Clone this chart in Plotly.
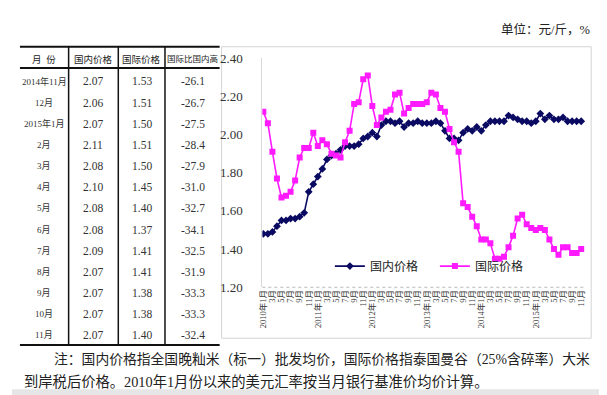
import plotly.graph_objects as go

# ---------------- data ----------------
years = [2010, 2011, 2012, 2013, 2014, 2015]
month_keys = [f"{y}-{m:02d}" for y in years for m in range(1, 13)][:71]

domestic = [
    1.48, 1.48, 1.49, 1.52, 1.55, 1.55, 1.56, 1.56, 1.57, 1.59,
    1.70, 1.74, 1.78, 1.82, 1.87, 1.89, 1.90, 1.92, 1.94, 1.94,
    1.94, 1.95, 1.98, 1.99, 2.01, 1.99, 2.05, 2.07, 2.07, 2.06,
    2.07, 2.04, 2.06, 2.06, 2.07, 2.06, 2.06, 2.06, 2.07, 2.06,
    2.02, 1.98, 1.98, 1.97, 2.01, 2.03, 2.02, 2.04, 2.02, 2.05,
    2.07, 2.07, 2.07, 2.07, 2.10, 2.09, 2.08, 2.07,
    2.07, 2.06, 2.07, 2.11, 2.08, 2.10, 2.08, 2.08, 2.09, 2.07, 2.07, 2.07, 2.07,
]
international = [
    2.12, 2.06, 1.91, 1.77, 1.67, 1.68, 1.70, 1.76, 1.88, 1.93,
    1.93, 2.01, 1.94, 1.97, 1.95, 1.90, 1.89, 1.88, 1.96, 2.02,
    2.16, 2.17, 2.29, 2.31, 2.15, 2.05, 2.09, 2.12, 2.13, 2.21,
    2.22, 2.11, 2.14, 2.16, 2.16, 2.16, 2.17, 2.22, 2.21, 2.14,
    2.12, 2.03, 1.96, 1.91, 1.64, 1.62, 1.57, 1.52, 1.45, 1.45,
    1.43, 1.35, 1.35, 1.36, 1.41, 1.47, 1.56, 1.58,
    1.53, 1.51, 1.50, 1.51, 1.50, 1.45, 1.40, 1.37, 1.41, 1.41, 1.38, 1.38, 1.40,
]

tick_vals = month_keys[::2]
tick_text = [(f"{k[:4]}年1月" if k.endswith("-01") else f"{int(k[5:])}月") for k in tick_vals]

y_ticks = [1.20, 1.40, 1.60, 1.80, 2.00, 2.20, 2.40]

table_header = ["月  份", "国内价格", "国际价格", "国际比国内高"]
table_months = ["2014年11月", "12月", "2015年1月", "2月", "3月", "4月", "5月",
                "6月", "7月", "8月", "9月", "10月", "11月"]
table_domestic = [2.07, 2.06, 2.07, 2.11, 2.08, 2.10, 2.08, 2.08, 2.09, 2.07, 2.07, 2.07, 2.07]
table_international = [1.53, 1.51, 1.50, 1.51, 1.50, 1.45, 1.40, 1.37, 1.41, 1.41, 1.38, 1.38, 1.40]
table_diff = [-26.1, -26.7, -27.5, -28.4, -27.9, -31.0, -32.7, -34.1, -32.5, -31.9, -33.3, -33.3, -32.4]

unit_text = "单位：元/斤，%"
note_line1 = "注：国内价格指全国晚籼米（标一）批发均价，国际价格指泰国曼谷（25%含碎率）大米"
note_line2 = "到岸税后价格。2010年1月份以来的美元汇率按当月银行基准价均价计算。"

# ---------------- layout helpers ----------------
W, H = 607, 395
FONT = "Liberation Serif, Noto Sans CJK SC, serif"


def px(x):
    return x / W


def py(y):
    return 1 - y / H


NAVY = "#0a0a63"
MAGENTA = "#ff1aff"

fig = go.Figure()
fig.add_trace(go.Scatter(
    x=month_keys, y=domestic, name="国内价格", mode="lines+markers",
    line=dict(color=NAVY, width=1.6),
    marker=dict(symbol="diamond", size=6, color=NAVY),
))
fig.add_trace(go.Scatter(
    x=month_keys, y=international, name="国际价格", mode="lines+markers",
    line=dict(color=MAGENTA, width=1.6),
    marker=dict(symbol="square", size=6, color=MAGENTA),
))

# plot area pixels
X0, X1 = 252, 580
Y_TOP, Y_BOT = 45, 283
step = 4.571
x_lo = (X0 - 253) / step
x_hi = (X1 - 253) / step

shapes = []
annotations = []

# chart frame
shapes.append(dict(type="rect", xref="paper", yref="paper",
                   x0=px(211), x1=px(583), y0=py(336), y1=py(33),
                   line=dict(color="#d4d4d4", width=1), fillcolor="rgba(0,0,0,0)", layer="below"))
# dotted x-axis line
shapes.append(dict(type="line", xref="paper", yref="paper",
                   x0=px(252), x1=px(578), y0=py(283), y1=py(283),
                   line=dict(color="#b8b8b8", width=1, dash="dot")))
# bottom gray band
shapes.append(dict(type="rect", xref="paper", yref="paper",
                   x0=0, x1=1, y0=0, y1=py(389),
                   line=dict(width=0), fillcolor="#e6e6e6", layer="below"))

# table lines
T_L, T_R = 8, 209
T_TOP, T_HEAD, T_BOT = 33, 55, 343
for yy in (T_TOP, T_HEAD, T_BOT):
    shapes.append(dict(type="line", xref="paper", yref="paper",
                       x0=px(T_L), x1=px(T_R), y0=py(yy), y1=py(yy),
                       line=dict(color="#111111", width=2)))
col_lines = [57, 107, 154]
for xx in col_lines:
    shapes.append(dict(type="line", xref="paper", yref="paper",
                       x0=px(xx), x1=px(xx), y0=py(T_TOP), y1=py(T_BOT),
                       line=dict(color="#111111", width=1.5)))

col_centers = [32.5, 82, 130.5, 182]
header_sizes = [9.5, 9.5, 9.5, 8.5]
for cx, txt, fs in zip(col_centers, table_header, header_sizes):
    annotations.append(dict(x=px(cx), y=py(46), xref="paper", yref="paper",
                            text=txt, showarrow=False, xanchor="center", yanchor="middle",
                            font=dict(family=FONT, size=fs, color="#222")))
for k in range(len(table_months)):
    yy = 69 + 22 * k
    vals = [table_months[k], f"{table_domestic[k]:.2f}", f"{table_international[k]:.2f}",
            f"{table_diff[k]:.1f}"]
    sizes = [9, 11.5, 11.5, 11.5]
    for cx, txt, fs in zip(col_centers, vals, sizes):
        annotations.append(dict(x=px(cx), y=py(yy), xref="paper", yref="paper",
                                text=txt, showarrow=False, xanchor="center", yanchor="middle",
                                font=dict(family=FONT, size=fs, color="#333")))

# unit text
annotations.append(dict(x=px(490), y=py(15), xref="paper", yref="paper", text=unit_text,
                        showarrow=False, xanchor="left", yanchor="middle",
                        font=dict(family=FONT, size=12.5, color="#222")))
# notes
annotations.append(dict(x=px(40), y=py(358), xref="paper", yref="paper", text=note_line1,
                        showarrow=False, xanchor="left", yanchor="middle",
                        font=dict(family=FONT, size=13.8, color="#222")))
annotations.append(dict(x=px(10), y=py(381), xref="paper", yref="paper", text=note_line2,
                        showarrow=False, xanchor="left", yanchor="middle",
                        font=dict(family=FONT, size=14.3, color="#222")))

fig.update_layout(
    width=W, height=H,
    margin=dict(l=0, r=0, t=0, b=0),
    paper_bgcolor="white", plot_bgcolor="white",
    font=dict(family=FONT, color="#222"),
    xaxis=dict(
        domain=[px(X0), px(X1)],
        type="category", categoryorder="array", categoryarray=month_keys,
        range=[x_lo, x_hi],
        tickmode="array", tickvals=tick_vals, ticktext=tick_text,
        tickangle=-90, tickfont=dict(family=FONT, size=8.5, color="#333"),
        showgrid=False, zeroline=False, showline=False, ticks="",
        anchor="y",
    ),
    yaxis=dict(
        domain=[py(Y_BOT), py(Y_TOP)],
        range=[1.2, 2.4],
        tickmode="array", tickvals=y_ticks, tickformat=".2f",
        tickfont=dict(family=FONT, size=13, color="#333"),
        showgrid=False, zeroline=False,
        showline=True, linecolor="#d9d9d9", linewidth=1, ticks="",
        ticklabelstandoff=16,
    ),
    showlegend=True,
    legend=dict(orientation="h", x=px(320), y=py(261), xanchor="left", yanchor="middle",
                font=dict(family=FONT, size=12, color="#222"), bgcolor="rgba(0,0,0,0)",
                entrywidth=60, entrywidthmode="pixels", itemwidth=30),
    shapes=shapes,
    annotations=annotations,
)

fig.write_html("out.html")
